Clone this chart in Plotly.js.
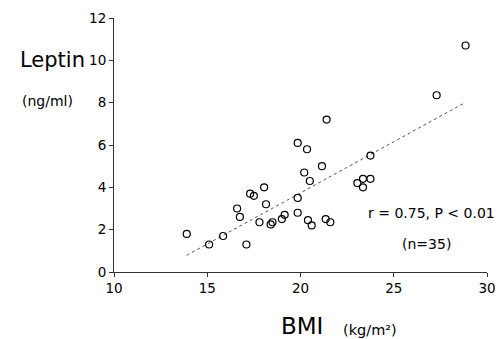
<!DOCTYPE html>
<html>
<head>
<meta charset="utf-8">
<script src="https://cdn.plot.ly/plotly-3.0.1.min.js"></script>
<style>
  html, body { margin: 0; padding: 0; background: #fff; }
  #chart { width: 502px; height: 339px; }
</style>
</head>
<body>
<div id="chart"></div>
<script>
// BMI (kg/m²) for each subject
const bmi = [13.9, 15.1, 15.85, 16.6, 16.75, 17.1, 17.3, 17.5, 17.8, 18.05,
             18.15, 18.4, 18.5, 19.0, 19.15, 19.85, 19.85, 19.85, 20.2, 20.35,
             20.4, 20.5, 20.6, 21.15, 21.4, 21.35, 21.6, 23.05, 23.35, 23.35,
             23.75, 23.75, 27.3, 28.85];

// Serum leptin (ng/ml) for each subject
const leptin = [1.8, 1.3, 1.7, 3.0, 2.6, 1.3, 3.7, 3.6, 2.35, 4.0,
                3.2, 2.25, 2.35, 2.5, 2.7, 6.1, 3.5, 2.8, 4.7, 5.8,
                2.45, 4.3, 2.2, 5.0, 7.2, 2.5, 2.35, 4.2, 4.4, 4.0,
                4.4, 5.5, 8.35, 10.7];

// Regression line endpoints
const fitX = [13.9, 28.8];
const fitY = [0.79, 7.99];

const xTicks = [10, 15, 20, 25, 30];
const yTicks = [0, 2, 4, 6, 8, 10, 12];

const statsText = 'r = 0.75, P < 0.01';
const nText = '(n=35)';

const labelFont = 'DejaVu Sans, sans-serif';

const traces = [
  {
    x: fitX, y: fitY, type: 'scatter', mode: 'lines',
    line: { color: '#555', width: 1, dash: 'dot' },
    hoverinfo: 'skip'
  },
  {
    x: bmi, y: leptin, type: 'scatter', mode: 'markers',
    marker: { symbol: 'circle-open', size: 7, color: '#000', line: { width: 1.2 } }
  }
];

const layout = {
  width: 502, height: 339,
  margin: { l: 114, r: 15, t: 18, b: 67 },
  paper_bgcolor: '#fff', plot_bgcolor: '#fff',
  showlegend: false,
  font: { family: labelFont, color: '#000' },
  xaxis: {
    range: [10, 30], tickvals: xTicks, ticktext: xTicks.map(String),
    showgrid: false, zeroline: false, showline: true, linecolor: '#333', linewidth: 1,
    ticks: 'outside', ticklen: 4, tickcolor: '#333',
    tickfont: { size: 13.5, family: labelFont, color: '#000' }
  },
  yaxis: {
    range: [0, 12], tickvals: yTicks, ticktext: yTicks.map(String),
    showgrid: false, zeroline: false, showline: true, linecolor: '#333', linewidth: 1,
    ticks: 'outside', ticklen: 4, tickcolor: '#333',
    tickfont: { size: 13.5, family: labelFont, color: '#000' }
  },
  annotations: [
    { text: 'Leptin', xref: 'paper', yref: 'paper', x: -0.166, y: 0.835,
      xanchor: 'center', yanchor: 'middle', showarrow: false,
      font: { size: 21, family: labelFont, color: '#000' } },
    { text: '(ng/ml)', xref: 'paper', yref: 'paper', x: -0.177, y: 0.673,
      xanchor: 'center', yanchor: 'middle', showarrow: false,
      font: { size: 14, family: labelFont, color: '#000' } },
    { text: 'BMI', xref: 'paper', yref: 'paper', x: 0.504, y: -0.213,
      xanchor: 'center', yanchor: 'middle', showarrow: false,
      font: { size: 23, family: labelFont, color: '#000' } },
    { text: '(kg/m²)', xref: 'paper', yref: 'paper', x: 0.686, y: -0.228,
      xanchor: 'center', yanchor: 'middle', showarrow: false,
      font: { size: 14.5, family: labelFont, color: '#000' } },
    { text: statsText, xref: 'paper', yref: 'paper', x: 0.850, y: 0.232,
      xanchor: 'center', yanchor: 'middle', showarrow: false,
      font: { size: 14, family: labelFont, color: '#000' } },
    { text: nText, xref: 'paper', yref: 'paper', x: 0.839, y: 0.110,
      xanchor: 'center', yanchor: 'middle', showarrow: false,
      font: { size: 14, family: labelFont, color: '#000' } }
  ]
};

Plotly.newPlot('chart', traces, layout, { staticPlot: true, displayModeBar: false });
</script>
</body>
</html>
